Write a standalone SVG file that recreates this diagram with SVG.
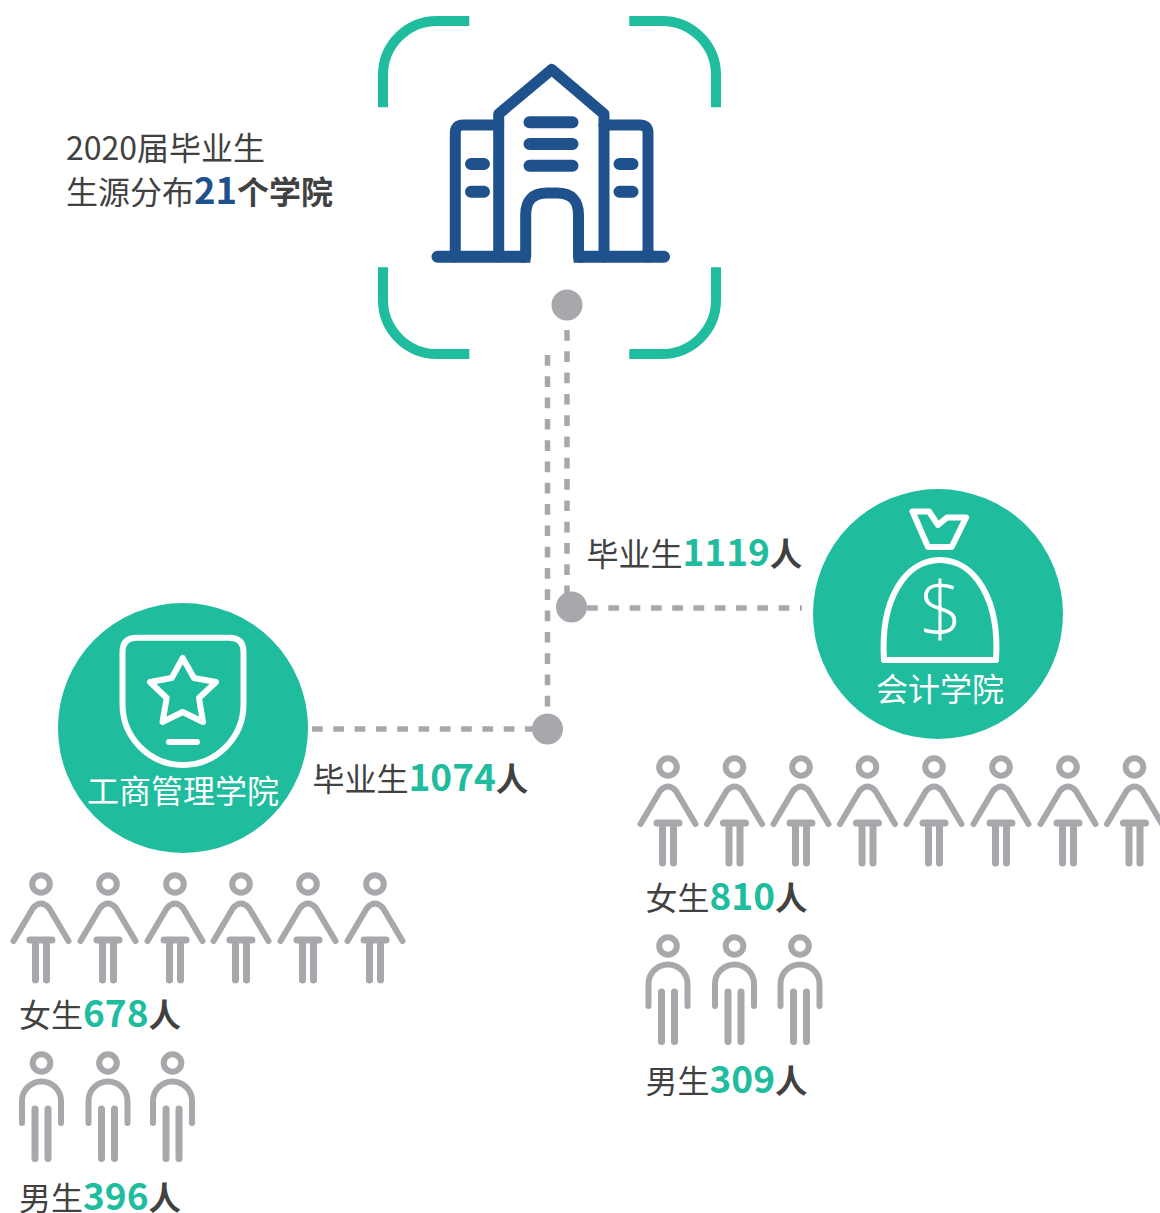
<svg xmlns="http://www.w3.org/2000/svg" width="1160" height="1213" viewBox="0 0 1160 1213">
<style>
text{font-family:"Noto Sans CJK SC","Noto Sans",sans-serif;font-size:32px;fill:#414141}
.n{font-size:37px;font-weight:700;fill:#20bc9e}
.b{font-weight:700;font-size:32.500px}
.t{font-weight:700;font-size:32px}
.bl{font-size:36.500px;font-weight:700;fill:#1f528d}
.w{fill:#fff}
.blue{fill:none;stroke:#1f528d;stroke-width:11;stroke-linejoin:round;stroke-linecap:round}
.frame{fill:none;stroke:#20bc9e;stroke-width:10}
.wl{fill:none;stroke:#fff;stroke-width:6;stroke-linejoin:round;stroke-linecap:round}
.dash{fill:none;stroke:#a7a8ac;stroke-width:5.500;stroke-dasharray:10.700 10.600}
.p{fill:none;stroke:#a7a8ac;stroke-width:6;stroke-linecap:round;stroke-linejoin:round}
.dot{fill:#a7a8ac}
</style>
<defs>
<g id="f" class="p"><circle cx="0" cy="0" r="8.800"/><path d="M-27.500,57 L-8,24 Q0,15 8,24 L27.500,57"/><path d="M-11,56 H11 M-5.500,56 V96 M5.500,56 V96" stroke-width="7"/></g>
<g id="m" class="p"><circle cx="0" cy="0" r="8.800"/><path d="M-19.500,60 V38 A19.500,19.500 0 0 1 19.500,38 V60"/><path d="M-6.500,46 V95.500 M6.500,46 V95.500" stroke-width="7"/></g>
</defs>
<g id="connectors">
<path class="dash" d="M567,330 V600"/>
<path class="dash" d="M547.500,355 V725"/>
<path class="dash" d="M587,608 H802"/>
<path class="dash" d="M312,729 H540"/>
</g>
<g id="node-school">
<path class="frame" d="M383,107.300 V75 A54,54 0 0 1 437,21 H469.300"/>
<path class="frame" d="M629.300,21 H662 A54,54 0 0 1 716,75 V107.300"/>
<path class="frame" d="M383,267.300 V300 A54,54 0 0 0 437,354 H469.300"/>
<path class="frame" d="M629.300,354 H662 A54,54 0 0 0 716,300 V267.300"/>
<g class="blue">
<path d="M498.700,257 V114 L551.700,69.500 L604,114 V257"/>
<path d="M498.700,125 H463 Q455.300,125 455.300,133 V257"/>
<path d="M604,125 H640 Q648,125 648,133 V257"/>
<path d="M525.700,257 V215 Q525.700,193 547,193 H557 Q578.500,193 578.500,215 V257" stroke-linecap="butt"/>
<path d="M437.500,256.700 H525 M579,256.700 H664" stroke-width="12"/>
<path d="M529.500,122.300 H572.500 M529.500,144 H572.500 M529.500,165.700 H572.500" stroke-width="12"/>
<path d="M471,164 H484 M471,191.700 H484 M619.500,164 H632.500 M619.500,191.700 H632.500" stroke-width="12"/>
</g>
<rect x="520.500" y="251" width="10" height="11.700" fill="#1f528d"/>
<rect x="573.500" y="251" width="10" height="11.700" fill="#1f528d"/>
<circle class="dot" cx="567" cy="305" r="15.500"/>
</g>
<g id="title">
<text x="66" y="160">2020届毕业生</text>
<text x="66" y="204">生源分布<tspan class="bl">21</tspan><tspan class="t">个学院</tspan></text>
</g>
<g id="node-joint1"><circle class="dot" cx="571.500" cy="607" r="15.500"/></g>
<g id="node-joint2"><circle class="dot" cx="547.500" cy="729" r="15.500"/></g>
<g id="node-business">
<circle cx="183" cy="728" r="125" fill="#20bc9e"/>
<path class="wl" d="M137,637.700 H229 Q243.500,637.700 243.500,652 V704 A60.500,61 0 0 1 122.500,704 V652 Q122.500,637.700 137,637.700 Z"/>
<path class="wl" d="M182.700,658 L194,678 L216,682 L199,698 L203,722 L182.700,712 L162.500,722 L166.700,698 L150,682 L171.700,678 Z"/>
<path class="wl" d="M169,742 H197" stroke-width="7"/>
<text class="w" x="87" y="803">工商管理学院</text>
</g>
<g id="node-accounting">
<circle cx="938" cy="614" r="125" fill="#20bc9e"/>
<path class="wl" d="M912.500,511.500 H929 L938,525 L947,517.500 H966 L951.700,547 H928 Z" stroke-linejoin="miter"/>
<path class="wl" d="M884,660 C880,600 905,560 940,560 C975,560 1000,600 996,660 Z" stroke-linejoin="miter"/>
<text class="w" x="941" y="636" text-anchor="middle" style="font-family:'Open Sans','Noto Sans',sans-serif;font-size:76px;font-weight:300">$</text>
<text class="w" x="876" y="701">会计学院</text>
</g>
<g id="label-1119"><text x="586.500" y="566">毕业生<tspan class="n">1119</tspan><tspan class="b">人</tspan></text></g>
<g id="label-1074"><text x="312.500" y="791">毕业生<tspan class="n">1074</tspan><tspan class="b">人</tspan></text></g>
<g id="people-left-f">
<use href="#f" x="41" y="884"/><use href="#f" x="108" y="884"/><use href="#f" x="175" y="884"/><use href="#f" x="241" y="884"/><use href="#f" x="308" y="884"/><use href="#f" x="375" y="884"/>
<text x="19" y="1027">女生<tspan class="n">678</tspan><tspan class="b">人</tspan></text>
</g>
<g id="people-left-m">
<use href="#m" x="41.500" y="1063"/><use href="#m" x="108" y="1063"/><use href="#m" x="172.500" y="1063"/>
<text x="19" y="1210">男生<tspan class="n">396</tspan><tspan class="b">人</tspan></text>
</g>
<g id="people-right-f">
<use href="#f" x="668" y="767"/><use href="#f" x="734.500" y="767"/><use href="#f" x="801" y="767"/><use href="#f" x="867.500" y="767"/><use href="#f" x="934" y="767"/><use href="#f" x="1001" y="767"/><use href="#f" x="1068" y="767"/><use href="#f" x="1134.500" y="767"/>
<text x="645.500" y="910">女生<tspan class="n">810</tspan><tspan class="b">人</tspan></text>
</g>
<g id="people-right-m">
<use href="#m" x="668" y="946"/><use href="#m" x="734.500" y="946"/><use href="#m" x="800" y="946"/>
<text x="645.500" y="1093">男生<tspan class="n">309</tspan><tspan class="b">人</tspan></text>
</g>
</svg>
